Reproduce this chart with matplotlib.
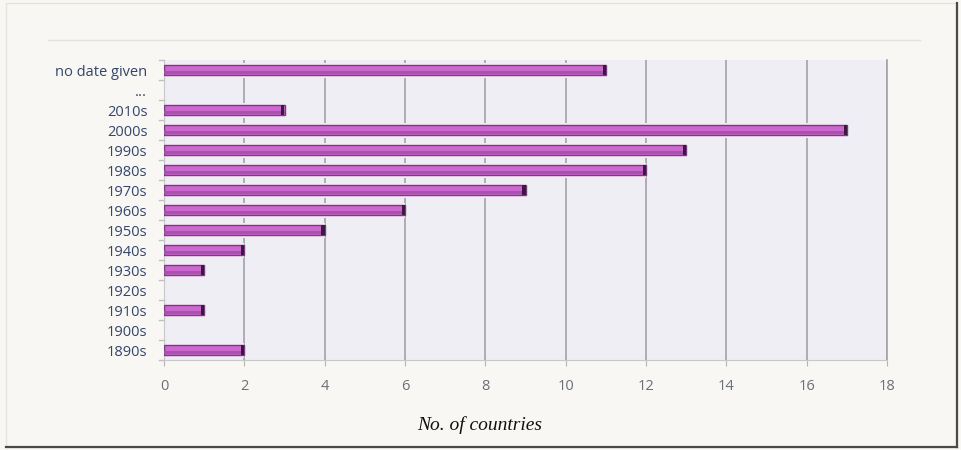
import matplotlib.pyplot as plt
from matplotlib.patches import Rectangle
from matplotlib.lines import Line2D

# Data.
categories = ['1890s', '1900s', '1910s', '1920s', '1930s', '1940s', '1950s',
              '1960s', '1970s', '1980s', '1990s', '2000s', '2010s', '...',
              'no date given']
counts = [2, 0, 1, 0, 1, 2, 4, 6, 9, 12, 13, 17, 3, 0, 11]
x_ticks = [0, 2, 4, 6, 8, 10, 12, 14, 16, 18]

fig = plt.figure(figsize=(9.61, 4.5), dpi=100)
fig.patch.set_facecolor('#f8f7f3')

# Outer frame: light top/left, dark shadow right/bottom.
fig.add_artist(Rectangle((6 / 961, 3 / 450), 950 / 961, 444 / 450,
                         transform=fig.transFigure, fill=False,
                         edgecolor='#e4e3de', linewidth=1))
fig.add_artist(Line2D([957 / 961, 957 / 961], [3 / 450, 447 / 450],
                      transform=fig.transFigure, color='#4a4a4a', linewidth=1.6))
fig.add_artist(Line2D([6 / 961, 957 / 961], [3 / 450, 3 / 450],
                      transform=fig.transFigure, color='#4a4a4a', linewidth=1.6))
fig.add_artist(Line2D([48 / 961, 920 / 961], [410 / 450, 410 / 450],
                      transform=fig.transFigure, color='#e2e1dc', linewidth=1))

ax = fig.add_axes([164 / 961, 90 / 450, 723 / 961, 300 / 450])
ax.set_facecolor('#efeef4')

# only draw non-empty categories
ys = [i for i, c in enumerate(counts) if c > 0]
vals = [c for c in counts if c > 0]

# faint pink halo around each bar
ax.barh(ys, vals, height=0.75, color='#f6e9f5', linewidth=0, zorder=2)
# main bar body
ax.barh(ys, vals, height=0.46, color='#cc68cf', edgecolor='#7a3a80',
        linewidth=1.0, zorder=3)
# darker lower part for the cylinder look
ax.barh([y - 0.11 for y in ys], vals, height=0.16, color='#a553ab',
        linewidth=0, zorder=4)
# dark end caps
ax.barh(ys, [0.08] * len(vals), left=[v - 0.08 for v in vals], height=0.46,
        color='#3a1a3e', linewidth=0, zorder=5)

ax.set_xlim(0, 18)
ax.set_ylim(-0.5, len(categories) - 0.5)
ax.set_xticks(x_ticks)
ax.set_xticklabels([str(t) for t in x_ticks], color='#6b6f7a', fontsize=10.5,
                   family='Open Sans')
ax.set_yticks(range(len(categories)))
ax.set_yticklabels(categories, color='#34456b', fontsize=10.5, family='Open Sans')
ax.tick_params(axis='y', length=0, pad=12)
ax.tick_params(axis='x', length=4, color='#b5b5b5', pad=10)

ax.grid(axis='x', color='#a2a2a8', linewidth=1.2, zorder=1)
ax.spines['top'].set_visible(False)
ax.spines['right'].set_color('#a2a2a8')
ax.spines['right'].set_linewidth(1.2)
ax.spines['left'].set_color('#c8c8c8')
ax.spines['bottom'].set_color('#c8c8c8')

# small category-boundary ticks on the y axis
for b in range(len(categories) + 1):
    ax.plot([-0.12, 0], [b - 0.5, b - 0.5], color='#c0c0c0', linewidth=1,
            clip_on=False, zorder=2)

fig.text(480 / 961, 25 / 450, 'No. of countries', ha='center', va='center',
         fontsize=14, style='italic', family='Liberation Serif', color='#111111')

fig.savefig('out.png', dpi=100, facecolor=fig.get_facecolor())
